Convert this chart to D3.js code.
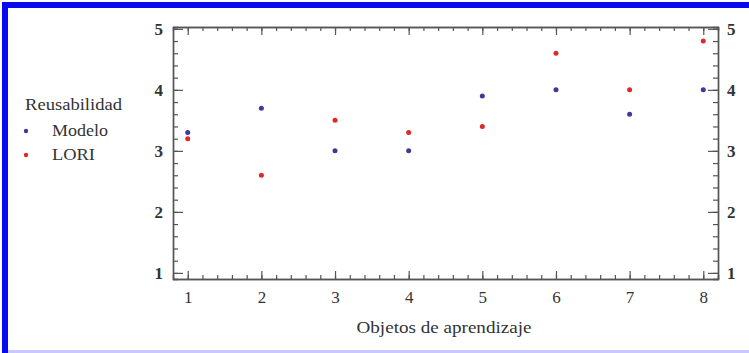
<!DOCTYPE html>
<html>
<head>
<meta charset="utf-8">
<script src="https://cdn.jsdelivr.net/npm/d3@7"></script>
<style>
  body { margin: 0; background: #fff; }
  svg { display: block; }
  text { font-family: "Liberation Serif", "Times New Roman", Times, serif; fill: #333; }
</style>
</head>
<body>
<div id="chart"></div>
<script>
var svgWidth = 749;
var svgHeight = 353;

// data
var objetos = [1, 2, 3, 4, 5, 6, 7, 8];
var modelo = [3.3, 3.7, 3.0, 3.0, 3.9, 4.0, 3.6, 4.0];
var lori = [3.2, 2.6, 3.5, 3.3, 3.4, 4.6, 4.0, 4.8];
var xTicks = [1, 2, 3, 4, 5, 6, 7, 8];
var yTicks = [1, 2, 3, 4, 5];
var seriesNames = ["Modelo", "LORI"];
var seriesColors = ["#3c3c96", "#dc2a2a"];

var plot = { left: 173, right: 718, top: 27, bottom: 279 };

var svg = d3.select("#chart")
    .append("svg")
    .attr("width", svgWidth)
    .attr("height", svgHeight);

// frame
svg.append("rect").attr("x", 2).attr("y", 2).attr("width", svgWidth - 2).attr("height", 6).attr("fill", "#0a0af0");
svg.append("rect").attr("x", 2).attr("y", 2).attr("width", 6).attr("height", svgHeight - 2).attr("fill", "#0a0af0");
svg.append("rect").attr("x", 8).attr("y", 350).attr("width", svgWidth - 8).attr("height", 3).attr("fill", "#c8c8ff");

var x = d3.scaleLinear().domain([0.8, 8.2]).range([plot.left, plot.right]);
var y = d3.scaleLinear().domain([0.9, 5.03]).range([plot.bottom, plot.top]);

var xMinor = d3.range(1, 8.21, 0.2);
var yMinor = d3.range(1, 5.01, 0.2);

function styleAxis(g, bold) {
  g.attr("font-family", null);
  g.select(".domain").attr("stroke", "#555").attr("stroke-width", 1.4);
  g.selectAll(".tick line").attr("stroke", "#555").attr("stroke-width", 1.2);
  g.selectAll("text")
    .attr("font-size", "17px")
    .attr("font-weight", bold ? "bold" : "normal")
    .attr("fill", "#333");
}

// minor ticks
svg.append("g").attr("transform", `translate(0,${plot.bottom})`)
    .call(d3.axisBottom(x).tickValues(xMinor).tickSize(-4).tickFormat("")).call(styleAxis);
svg.append("g").attr("transform", `translate(0,${plot.top})`)
    .call(d3.axisTop(x).tickValues(xMinor).tickSize(-4).tickFormat("")).call(styleAxis);
svg.append("g").attr("transform", `translate(${plot.left},0)`)
    .call(d3.axisLeft(y).tickValues(yMinor).tickSize(-5).tickFormat("")).call(styleAxis);
svg.append("g").attr("transform", `translate(${plot.right},0)`)
    .call(d3.axisRight(y).tickValues(yMinor).tickSize(-5).tickFormat("")).call(styleAxis);

// major ticks with labels
svg.append("g").attr("transform", `translate(0,${plot.bottom})`)
    .call(d3.axisBottom(x).tickValues(xTicks).tickSize(-8).tickSizeOuter(0).tickPadding(12).tickFormat(d3.format("d")))
    .call(g => styleAxis(g, false));
svg.append("g").attr("transform", `translate(0,${plot.top})`)
    .call(d3.axisTop(x).tickValues(xTicks).tickSize(-8).tickSizeOuter(0).tickFormat(""))
    .call(g => styleAxis(g, false));
svg.append("g").attr("transform", `translate(${plot.left},0)`)
    .call(d3.axisLeft(y).tickValues(yTicks).tickSize(-10).tickSizeOuter(0).tickPadding(10).tickFormat(d3.format("d")))
    .call(g => styleAxis(g, true));
svg.append("g").attr("transform", `translate(${plot.right},0)`)
    .call(d3.axisRight(y).tickValues(yTicks).tickSize(-10).tickSizeOuter(0).tickPadding(9).tickFormat(d3.format("d")))
    .call(g => styleAxis(g, true));

// points
[modelo, lori].forEach(function(vals, i) {
  svg.append("g")
    .selectAll("circle")
    .data(vals)
    .enter()
    .append("circle")
    .attr("cx", (d, j) => x(objetos[j]))
    .attr("cy", d => y(d))
    .attr("r", 2.5)
    .attr("fill", seriesColors[i]);
});

// axis title
svg.append("text")
    .attr("x", 444)
    .attr("y", 333)
    .attr("text-anchor", "middle")
    .attr("font-size", "17px")
    .attr("textLength", 175)
    .attr("lengthAdjust", "spacingAndGlyphs")
    .text("Objetos de aprendizaje");

// legend
var legend = svg.append("g");
legend.append("text")
    .attr("x", 25).attr("y", 110)
    .attr("font-size", "17px")
    .attr("textLength", 97)
    .attr("lengthAdjust", "spacingAndGlyphs")
    .text("Reusabilidad");

var legendLens = [56, 43];
seriesNames.forEach(function(name, i) {
  var ly = 131 + i * 24;
  legend.append("circle").attr("cx", 26).attr("cy", ly).attr("r", 2.2).attr("fill", seriesColors[i]);
  legend.append("text")
    .attr("x", 52).attr("y", ly + 4.5)
    .attr("font-size", "17px")
    .attr("textLength", legendLens[i])
    .attr("lengthAdjust", "spacingAndGlyphs")
    .text(name);
});
</script>
</body>
</html>
